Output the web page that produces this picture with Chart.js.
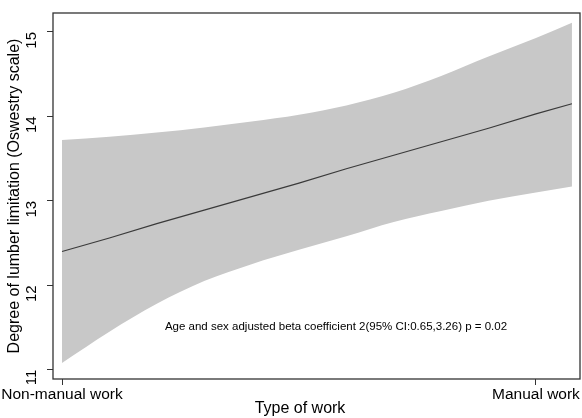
<!DOCTYPE html>
<html>
<head>
<meta charset="utf-8">
<script src="https://cdn.jsdelivr.net/npm/chart.js@4.4.0/dist/chart.umd.min.js"></script>
<style>
  html, body { margin: 0; padding: 0; background: #fff; }
  #wrap { width: 582px; height: 418px; }
</style>
</head>
<body>
<div id="wrap"><canvas id="myChart"></canvas></div>
<script>
// x: 0 = non-manual, 1 = manual (fit drawn a little past 1)
const xs = [0, 0.1, 0.2, 0.3, 0.4, 0.5, 0.6, 0.7, 0.8, 0.9, 1.0, 1.076];
const fitted = [12.40, 12.56, 12.73, 12.89, 13.05, 13.21, 13.38, 13.54, 13.70, 13.86, 14.03, 14.15];
const upperCI = [13.72, 13.76, 13.81, 13.87, 13.94, 14.02, 14.13, 14.28, 14.48, 14.71, 14.93, 15.11];
const lowerCI = [11.08, 11.45, 11.78, 12.05, 12.25, 12.42, 12.58, 12.75, 12.88, 13.00, 13.10, 13.17];
const xTicks = [0, 1];
const xTickLabels = ["Non-manual work", "Manual work"];
const yTicks = [11, 12, 13, 14, 15];

const font = "'Liberation Sans', Arial, Helvetica, sans-serif";

function pts(ys) {
    return xs.map((x, i) => ({ x: x, y: ys[i] }));
}

const frame = {
    id: "frame",
    afterDraw(chart) {
        const ctx = chart.ctx;
        const a = chart.chartArea;
        ctx.save();
        ctx.strokeStyle = "#333";
        ctx.lineWidth = 1.3;
        ctx.strokeRect(a.left, a.top, a.right - a.left, a.bottom - a.top);
        ctx.fillStyle = "#000";
        ctx.textAlign = "center";
        ctx.textBaseline = "middle";
        ctx.font = "11.5px " + font;
        ctx.fillText("Age and sex adjusted beta coefficient 2(95% CI:0.65,3.26) p = 0.02", 336, 327);
        ctx.font = "16px " + font;
        ctx.fillText("Type of work", 300, 409);
        ctx.restore();
    }
};

const config = {
    type: "line",
    data: {
        datasets: [
            {
                label: "upper",
                data: pts(upperCI),
                borderWidth: 0,
                pointRadius: 0,
                backgroundColor: "#c8c8c8",
                fill: "+1",
                cubicInterpolationMode: "monotone",
                order: 2,
            },
            {
                label: "lower",
                data: pts(lowerCI),
                borderWidth: 0,
                pointRadius: 0,
                fill: false,
                cubicInterpolationMode: "monotone",
                order: 2,
            },
            {
                label: "fit",
                data: pts(fitted),
                borderColor: "#3a3a3a",
                borderWidth: 1.2,
                pointRadius: 0,
                fill: false,
                order: 0,
            },
        ],
    },
    options: {
        responsive: true,
        maintainAspectRatio: false,
        animation: false,
        layout: { padding: { top: 13, right: 2, left: 0, bottom: 0 } },
        plugins: {
            legend: { display: false },
            tooltip: { enabled: false },
        },
        scales: {
            x: {
                type: "linear",
                min: -0.019,
                max: 1.093,
                afterBuildTicks: (s) => { s.ticks = xTicks.map((v) => ({ value: v })); },
                afterFit: (s) => { s.height = 39; s.paddingLeft = 0; s.paddingRight = 0; },
                ticks: {
                    autoSkip: false,
                    maxRotation: 0,
                    color: "#000",
                    padding: 0,
                    font: { family: font, size: 15.5 },
                    callback: (v) => xTickLabels[xTicks.indexOf(v)],
                },
                grid: { drawOnChartArea: false, tickLength: 6, color: "#333" },
                border: { display: false },
            },
            y: {
                min: 10.89,
                max: 15.225,
                afterBuildTicks: (s) => { s.ticks = yTicks.map((v) => ({ value: v })); },
                afterFit: (s) => { s.width = 53; s.paddingTop = 0; s.paddingBottom = 0; },
                ticks: {
                    minRotation: 90,
                    maxRotation: 90,
                    color: "#000",
                    padding: 15,
                    font: { family: font, size: 15 },
                },
                grid: { drawOnChartArea: false, tickLength: 6, color: "#333" },
                border: { display: false },
                title: {
                    display: true,
                    text: "Degree of lumber limitation (Oswestry scale)",
                    color: "#000",
                    padding: { top: 5, bottom: 0 },
                    font: { family: font, size: 16 },
                },
            },
        },
    },
    plugins: [frame],
};

const myChart = new Chart(document.getElementById("myChart"), config);
</script>
</body>
</html>
